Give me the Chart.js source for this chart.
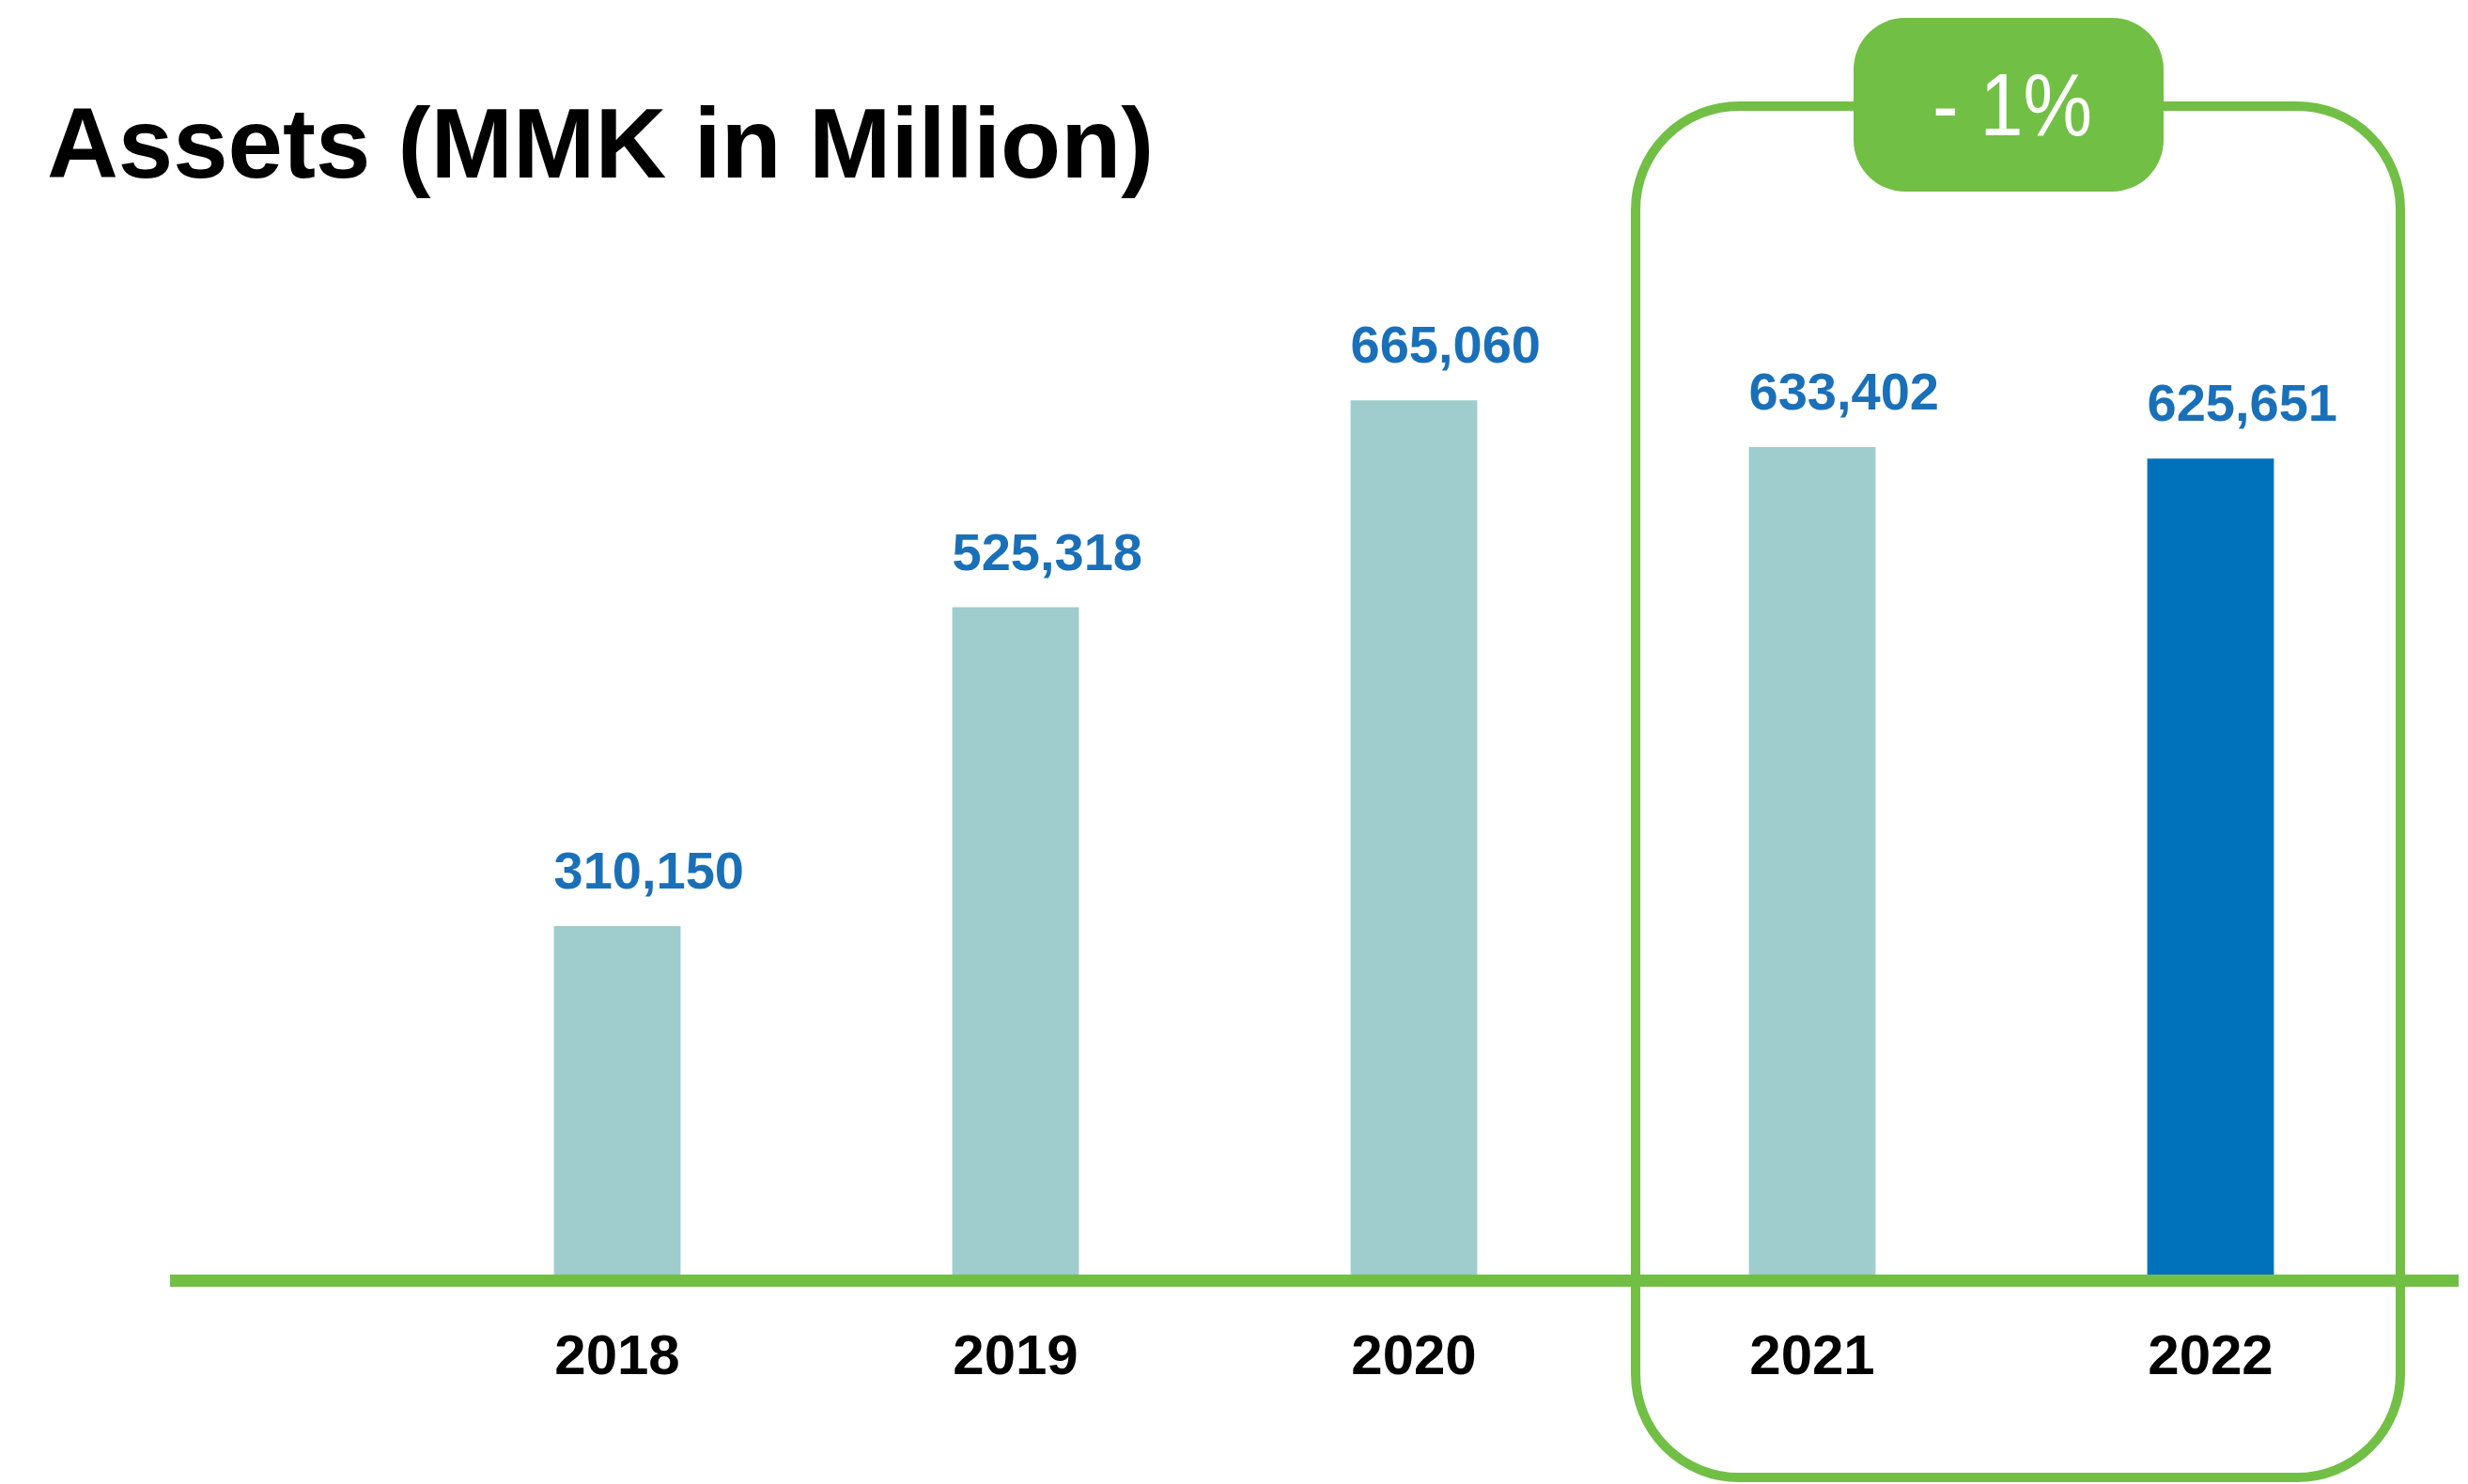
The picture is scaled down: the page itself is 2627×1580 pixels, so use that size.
<!DOCTYPE html>
<html>
<head>
<meta charset="utf-8">
<title>Assets (MMK in Million)</title>
<script src="https://cdn.jsdelivr.net/npm/chart.js@4.4.1/dist/chart.umd.min.js"></script>
<style>
  html, body { margin: 0; padding: 0; background: #fff; }
  #wrap { position: relative; width: 2627px; height: 1580px; overflow: hidden; }
  #chart { position: absolute; left: 0; top: 0; }
  #title {
    position: absolute; left: 50px; top: 100px;
    font: bold 105px "Liberation Sans", Arial, sans-serif; line-height: 1;
    color: #000; white-space: nowrap;
  }
  #badge {
    position: absolute; left: 1973px; top: 19px; width: 330px; height: 185px;
    border-radius: 55px; background: #72bf46;
    display: flex; align-items: center; justify-content: center;
  }
  #badge span {
    font: 94px "Liberation Sans", Arial, sans-serif; line-height: 1;
    color: #fff; white-space: pre; display: inline-block;
    transform: scaleX(0.88); padding-left: 10px;
  }
</style>
</head>
<body>
<div id="wrap">
  <canvas id="chart" width="2627" height="1580"></canvas>
  <div id="title">Assets (MMK in Million)</div>
  <div id="badge"><span>- 1%</span></div>
</div>
<script>
const years = ['2018', '2019', '2020', '2021', '2022'];
const assets = [310150, 525318, 665060, 633402, 625651];
const barColors = ['#9fcccd', '#9fcccd', '#9fcccd', '#9fcccd', '#0071bb'];
const yMin = 75000;
const yMax = 875000;

const green = '#72bf46';

// baseline + rounded frame round 2021/2022
const decorPlugin = {
    id: 'decor',
    afterDatasetsDraw(chart) {
        const ctx = chart.ctx;
        const y0 = chart.scales.y.getPixelForValue(yMin);
        ctx.save();
        ctx.fillStyle = green;
        ctx.fillRect(181, y0, 2436, 13);

        ctx.strokeStyle = green;
        ctx.lineWidth = 10;
        ctx.beginPath();
        ctx.roundRect(1741, 113, 814, 1460, 110);
        ctx.stroke();
        ctx.restore();
    }
};

// value labels above bars (left edge aligned with bar)
const valueLabels = {
    id: 'valueLabels',
    afterDatasetsDraw(chart) {
        const ctx = chart.ctx;
        const meta = chart.getDatasetMeta(0);
        ctx.save();
        ctx.font = 'bold 56px "Liberation Sans", Arial, sans-serif';
        ctx.fillStyle = '#1a70b8';
        ctx.textAlign = 'left';
        ctx.textBaseline = 'alphabetic';
        meta.data.forEach((bar, i) => {
            ctx.fillText(assets[i].toLocaleString('en-US'), bar.x - bar.width / 2, bar.y - 40);
        });
        ctx.restore();
    }
};

new Chart(document.getElementById('chart').getContext('2d'), {
    type: 'bar',
    data: {
        labels: years,
        datasets: [{
            data: assets,
            backgroundColor: barColors,
            borderWidth: 0,
            categoryPercentage: 1,
            barPercentage: 0.318
        }]
    },
    options: {
        responsive: false,
        animation: false,
        layout: { padding: { left: 445, right: 62, top: 95, bottom: 0 } },
        plugins: { legend: { display: false }, tooltip: { enabled: false } },
        scales: {
            x: {
                grid: { display: false, drawTicks: false },
                border: { display: false },
                afterFit(scale) { scale.height = 223; },
                ticks: {
                    padding: 53,
                    color: '#000',
                    font: { family: '"Liberation Sans", Arial, sans-serif', size: 60, weight: 'bold' }
                }
            },
            y: {
                display: false,
                min: yMin,
                max: yMax
            }
        }
    },
    plugins: [decorPlugin, valueLabels]
});
</script>
</body>
</html>
